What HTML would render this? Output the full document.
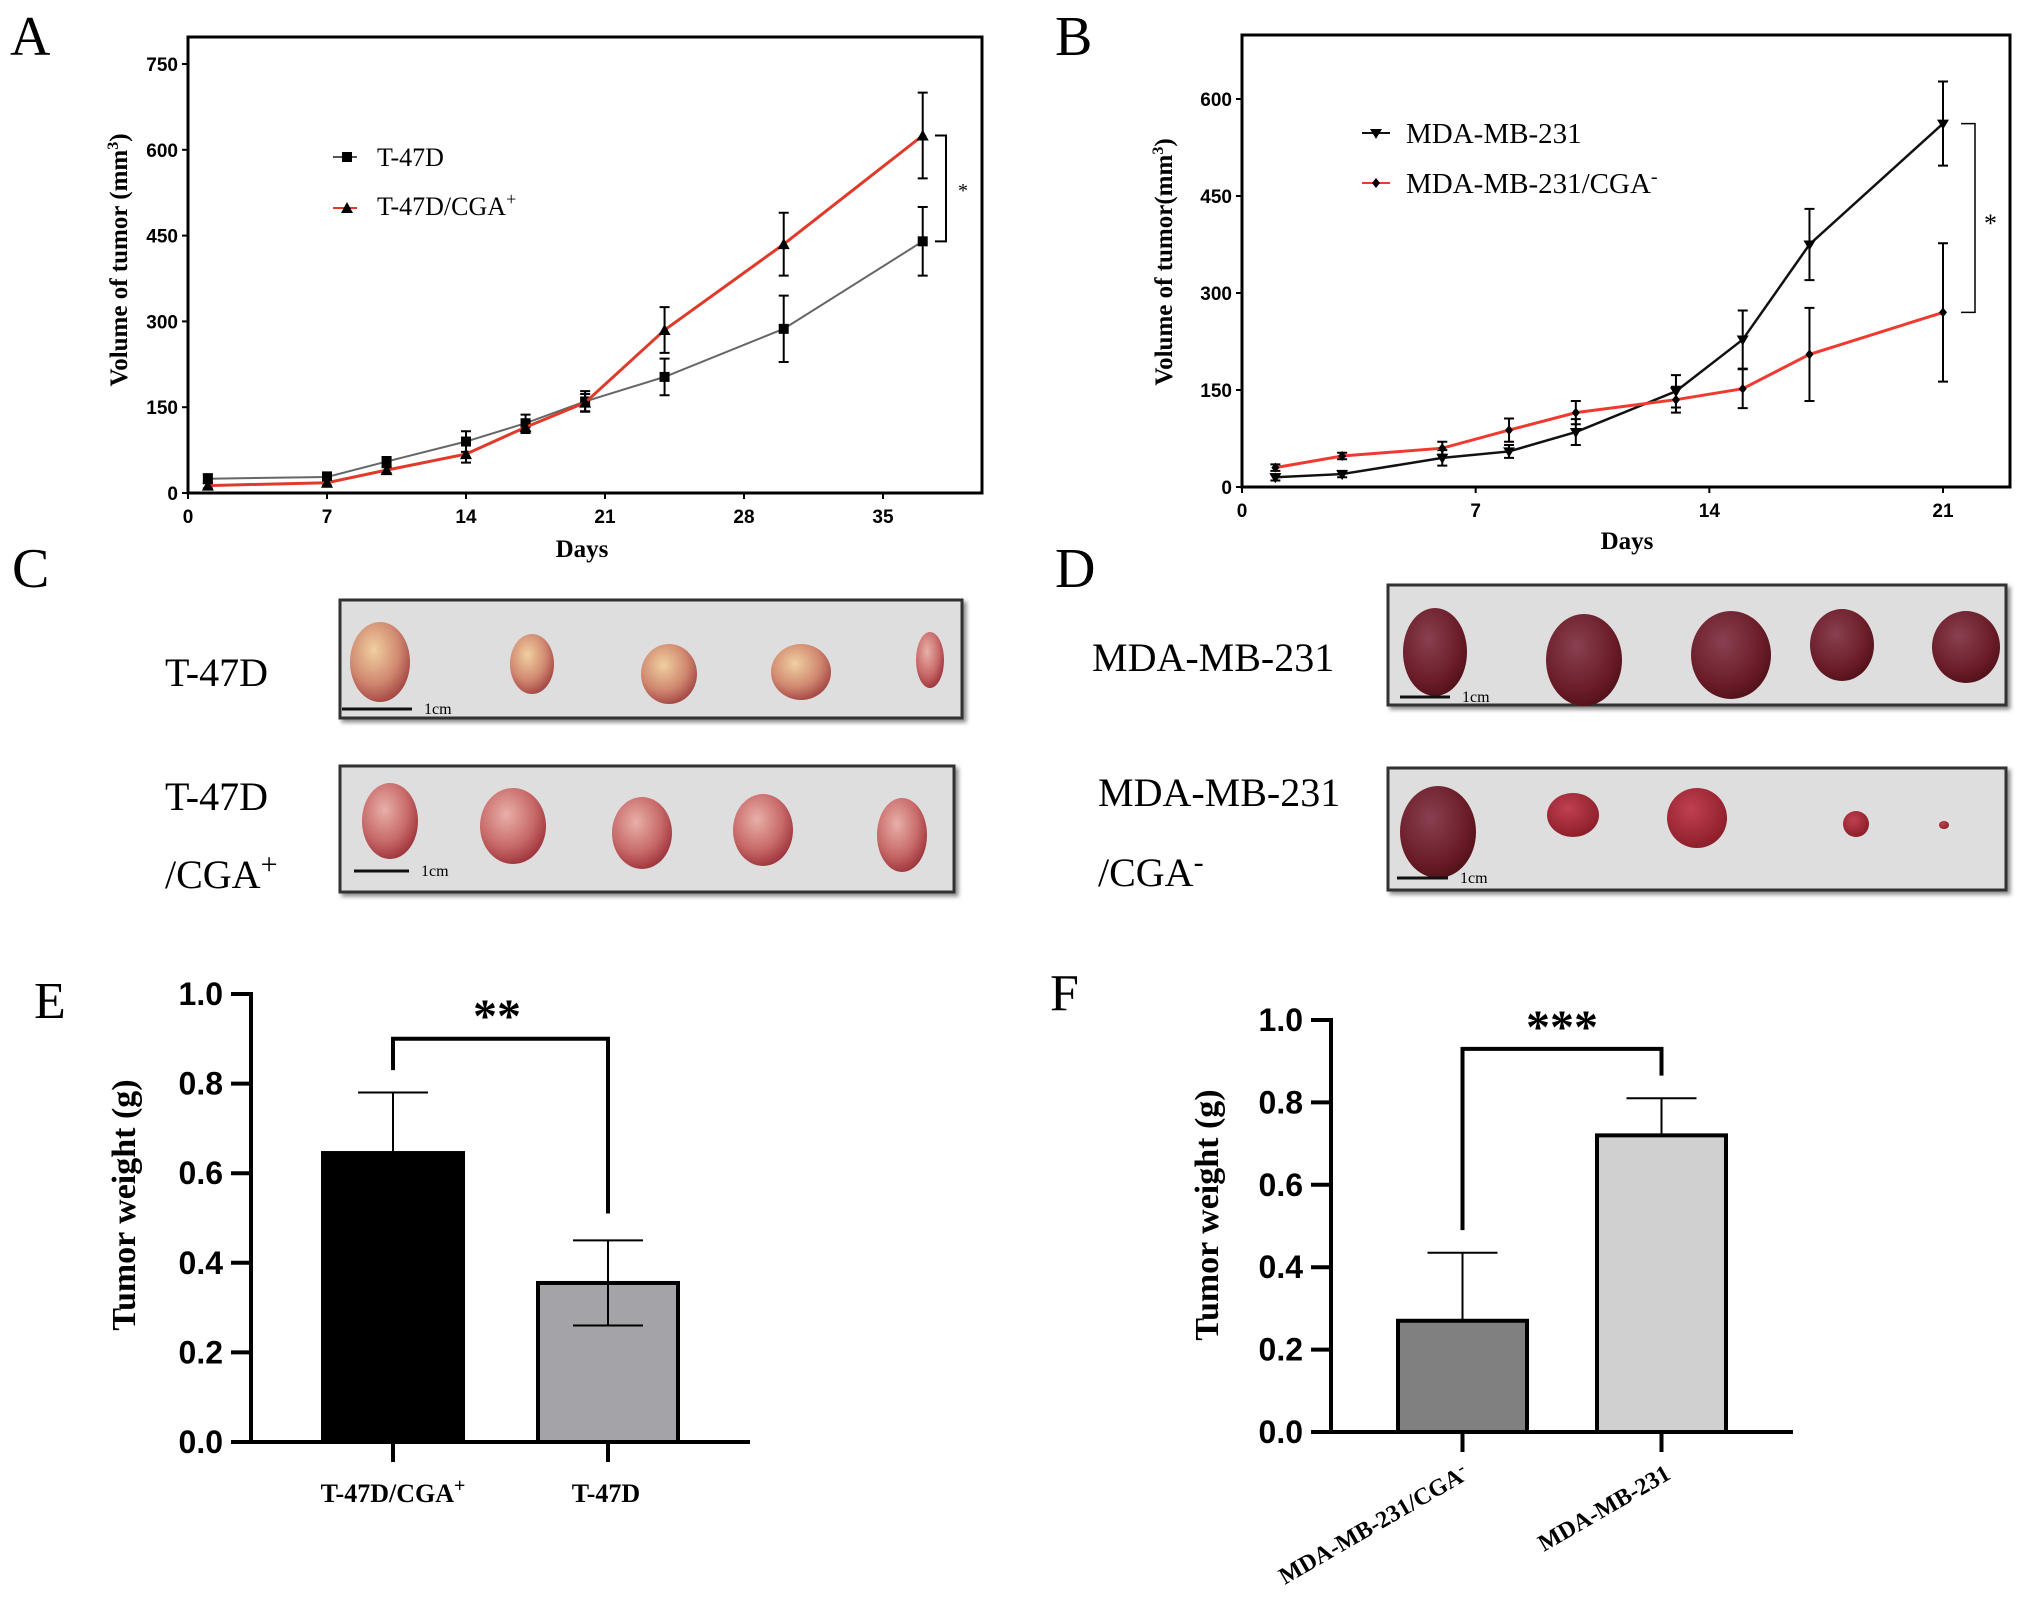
<!DOCTYPE html>
<html><head><meta charset="utf-8"><style>
html,body{margin:0;padding:0;background:#fff;}
svg{display:block;}
text{font-family:"Liberation Serif",serif;}
.tk{font-family:"Liberation Sans",sans-serif;font-weight:bold;}
</style></head><body>
<svg id="fig" width="2031" height="1617" viewBox="0 0 2031 1617" xmlns="http://www.w3.org/2000/svg">
<defs>
<radialGradient id="tumPink" cx="40%" cy="35%" r="70%"><stop offset="0" stop-color="#e8b0a8"/><stop offset="0.6" stop-color="#c86a6a"/><stop offset="1" stop-color="#9a3038"/></radialGradient>
<radialGradient id="tumTan" cx="40%" cy="35%" r="70%"><stop offset="0" stop-color="#f0d0a0"/><stop offset="0.6" stop-color="#d08870"/><stop offset="1" stop-color="#a04040"/></radialGradient>
<radialGradient id="tumDark" cx="40%" cy="35%" r="70%"><stop offset="0" stop-color="#8a4050"/><stop offset="0.7" stop-color="#6a1c28"/><stop offset="1" stop-color="#501018"/></radialGradient>
<radialGradient id="tumRed" cx="40%" cy="35%" r="70%"><stop offset="0" stop-color="#c04050"/><stop offset="1" stop-color="#8a1c28"/></radialGradient>
<filter id="sh"><feDropShadow dx="3" dy="3" stdDeviation="2" flood-color="#888"/></filter>
</defs>
<g id="panelA"></g>
<g id="panelB"></g>
<g id="panelC"></g>
<g id="panelD"></g>
<g id="panelE"></g>
<g id="panelF"></g>
</svg>
<script>
// Panel A data
const aDaysT47 = [1,7,10,14,17,20,24,30,37];
const aValsT47 = [25,28,55,90,122,160,203,287,440];
const aErrT47 = [8,8,8,18,15,18,32,58,60];
const aDaysCGA = [1,7,10,14,17,20,24,30,37];
const aValsCGA = [13,18,40,68,115,158,285,435,625];
const aErrCGA = [5,5,5,15,10,15,40,55,75];
const aXTicks = [0,7,14,21,28,35];
const aYTicks = [0,150,300,450,600,750];
// Panel B data
const bDaysMDA = [1,3,6,8,10,13,15,17,21];
const bValsMDA = [15,20,45,55,85,148,228,375,562];
const bErrMDA = [5,5,12,10,20,25,45,55,65];
const bDaysCGA = [1,3,6,8,10,13,15,17,21];
const bValsCGA = [30,48,60,88,115,135,152,205,270];
const bErrCGA = [5,5,10,18,18,20,30,72,107];
const bXTicks = [0,7,14,21];
const bYTicks = [0,150,300,450,600];
// Panel E data
const eCats = ["T-47D/CGA+","T-47D"];
const eVals = [0.645,0.355];
const eErr = [0.135,0.095];
const eYTicks = [0.0,0.2,0.4,0.6,0.8,1.0];
// Panel F data
const fCats = ["MDA-MB-231/CGA-","MDA-MB-231"];
const fVals = [0.27,0.72];
const fErr = [0.165,0.09];
const fYTicks = [0.0,0.2,0.4,0.6,0.8,1.0];

const NS="http://www.w3.org/2000/svg";
function mk(parent,tag,attrs,txt){const e=document.createElementNS(NS,tag);for(const k in attrs)e.setAttribute(k,attrs[k]);if(txt!==undefined)e.textContent=txt;parent.appendChild(e);return e;}

function lineChart(g,cfg){
  const X=d=>cfg.x0+(d-cfg.d0)*(cfg.x1-cfg.x0)/(cfg.d1-cfg.d0);
  const Y=v=>cfg.y0-(v)*(cfg.y0-cfg.y1)/(cfg.v1);
  let e;
  e=mk(g,'path',{d:`M${cfg.x0},${cfg.top}H${cfg.right}V${cfg.y0}H${cfg.x0}Z`,fill:'none',stroke:'#000','stroke-width':3});
  
  cfg.xt.forEach(t=>{mk(g,'line',{x1:X(t),x2:X(t),y1:cfg.y0,y2:cfg.y0+6,stroke:'#000','stroke-width':2});
    e=mk(g,'text',{x:X(t),y:cfg.y0+30,'text-anchor':'middle','font-size':19,class:'tk'},t);
    });
  cfg.yt.forEach(t=>{mk(g,'line',{x1:cfg.x0-6,x2:cfg.x0,y1:Y(t),y2:Y(t),stroke:'#000','stroke-width':2});
    e=mk(g,'text',{x:cfg.x0-10,y:Y(t)+7,'text-anchor':'end','font-size':19,class:'tk'},t);
    });
  cfg.series.forEach(s=>{
    const sg=mk(g,'g',{});
    
    mk(sg,'polyline',{points:s.d.map((d,i)=>X(d)+','+Y(s.v[i])).join(' '),fill:'none',stroke:s.c,'stroke-width':s.w});
    s.d.forEach((d,i)=>{const x=X(d),yh=Y(s.v[i]+s.e[i]),yl=Y(Math.max(0,s.v[i]-s.e[i]));
      mk(sg,'path',{d:`M${x},${yh}V${yl}M${x-5},${yh}H${x+5}M${x-5},${yl}H${x+5}`,stroke:'#000','stroke-width':2,fill:'none'});
      marker(sg,s.m,x,Y(s.v[i]));});
  });
}
function marker(g,m,x,y){
  if(m==='sq')mk(g,'rect',{x:x-5,y:y-5,width:10,height:10,fill:'#000'});
  else if(m==='tri')mk(g,'path',{d:`M${x},${y-6}L${x+6},${y+5}L${x-6},${y+5}Z`,fill:'#000'});
  else if(m==='itri')mk(g,'path',{d:`M${x-6},${y-4}L${x+6},${y-4}L${x},${y+6}Z`,fill:'#000'});
  else mk(g,'path',{d:`M${x},${y-5}L${x+4},${y}L${x},${y+5}L${x-4},${y}Z`,fill:'#000'});
}
function label(g,t,x,y,fs,name,extra){const e=mk(g,'text',Object.assign({x:x,y:y,'font-size':fs},extra||{}),t);return e;}

// Panel A
(function(){const g=document.getElementById('panelA');
lineChart(g,{x0:188,x1:883,d0:0,d1:35,y0:493,y1:64,v1:750,top:37,right:982,xt:aXTicks,yt:aYTicks,
 series:[{name:'series-t47d',d:aDaysT47,v:aValsT47,e:aErrT47,c:'#666',w:2,m:'sq'},{name:'series-t47d-cga',d:aDaysCGA,v:aValsCGA,e:aErrCGA,c:'#e03a2a',w:3,m:'tri'}]});
label(g,'A',10,55,56,'panel-label-a');
label(g,'Days',582,557,25,'x-axis-title',{'font-weight':'bold','text-anchor':'middle'});
const yt=label(g,'',0,0,25,'y-axis-title',{'font-weight':'bold','text-anchor':'middle',transform:'translate(127,260) rotate(-90)'});
yt.innerHTML='Volume of tumor (mm<tspan dy="-9" font-size="16">3</tspan><tspan dy="9">)</tspan>';
mk(g,'line',{x1:333,x2:357,y1:157,y2:157,stroke:'#555','stroke-width':2});marker(g,'sq',347,157);
label(g,'T-47D',377,166,26,'legend-t47d');
mk(g,'line',{x1:333,x2:357,y1:208,y2:208,stroke:'#e03a2a','stroke-width':2});marker(g,'tri',347,208);
const l2=label(g,'',377,215,26,'legend-t47d-cga');l2.innerHTML='T-47D/CGA<tspan dy="-10" font-size="18">+</tspan>';
const Y=v=>493-v*(493-64)/750;
mk(g,'path',{d:`M935,${Y(625)}H946V${Y(440)}H935`,fill:'none',stroke:'#000','stroke-width':2});
label(g,'*',958,197,20,'significance-star');
})();
// Panel B
(function(){const g=document.getElementById('panelB');
lineChart(g,{x0:1242,x1:1943,d0:0,d1:21,y0:487,y1:99,v1:600,top:35,right:2010,xt:bXTicks,yt:bYTicks,
 series:[{name:'series-mda',d:bDaysMDA,v:bValsMDA,e:bErrMDA,c:'#111',w:2.5,m:'itri'},{name:'series-mda-cga',d:bDaysCGA,v:bValsCGA,e:bErrCGA,c:'#f03a30',w:3,m:'dia'}]});
label(g,'B',1055,55,56,'panel-label-b');
label(g,'Days',1627,549,25,'x-axis-title',{'font-weight':'bold','text-anchor':'middle'});
const yt=label(g,'',0,0,25,'y-axis-title',{'font-weight':'bold','text-anchor':'middle',transform:'translate(1172,262) rotate(-90)'});
yt.innerHTML='Volume of tumor(mm<tspan dy="-9" font-size="16">3</tspan><tspan dy="9">)</tspan>';
mk(g,'line',{x1:1362,x2:1390,y1:133,y2:133,stroke:'#111','stroke-width':2});marker(g,'itri',1376,133);
label(g,'MDA-MB-231',1406,143,29,'legend-mda');
mk(g,'line',{x1:1362,x2:1390,y1:183,y2:183,stroke:'#f03a30','stroke-width':2});marker(g,'dia',1376,183);
const l2=label(g,'',1406,193,29,'legend-mda-cga');l2.innerHTML='MDA-MB-231/CGA<tspan dy="-10" font-size="20">-</tspan>';
const Y=v=>487-v*(487-99)/600;
mk(g,'path',{d:`M1961,${Y(562)}H1975V${Y(270)}H1961`,fill:'none',stroke:'#000','stroke-width':1.5});
label(g,'*',1984,232,26,'significance-star');
})();
// Photos
function photo(g,name,x,y,w,h,tumors,bar){
  const pg=mk(g,'g',{});
  mk(pg,'rect',{x:x,y:y,width:w,height:h,fill:'#dedede',stroke:'#333','stroke-width':3,filter:'url(#sh)'});
  tumors.forEach(t=>mk(pg,'ellipse',{cx:t[0],cy:t[1],rx:t[2],ry:t[3],fill:'url(#'+t[4]+')'}));
  mk(pg,'line',{x1:bar[0],x2:bar[1],y1:bar[2],y2:bar[2],stroke:'#111','stroke-width':3});
  const e=mk(pg,'text',{x:bar[1]+12,y:bar[2]+5,'font-size':16},'1cm');
}
(function(){const g=document.getElementById('panelC');
label(g,'C',12,587,56,'panel-label-c');
label(g,'T-47D',165,686,40,'row-label-t47d');
label(g,'T-47D',165,810,40,'row-label-t47d-cga');
const l=label(g,'',165,888,40,'row-label-cga');l.innerHTML='/CGA<tspan dy="-14" font-size="30">+</tspan>';
photo(g,'photo-t47d',340,600,622,118,[[380,662,30,40,'tumTan'],[532,664,22,30,'tumTan'],[669,674,28,30,'tumTan'],[801,672,30,28,'tumTan'],[930,660,14,28,'tumPink']],[342,412,709]);
photo(g,'photo-t47d-cga',340,766,614,126,[[390,821,28,38,'tumPink'],[513,826,33,38,'tumPink'],[642,833,30,36,'tumPink'],[763,830,30,36,'tumPink'],[902,835,25,37,'tumPink']],[354,409,871]);
})();
(function(){const g=document.getElementById('panelD');
label(g,'D',1055,587,56,'panel-label-d');
label(g,'MDA-MB-231',1092,671,40,'row-label-mda');
label(g,'MDA-MB-231',1098,806,40,'row-label-mda-cga');
const l=label(g,'',1098,886,40,'row-label-cga-minus');l.innerHTML='/CGA<tspan dy="-14" font-size="30">-</tspan>';
photo(g,'photo-mda',1388,585,618,120,[[1435,652,32,44,'tumDark'],[1584,660,38,46,'tumDark'],[1731,655,40,44,'tumDark'],[1842,645,32,36,'tumDark'],[1966,647,34,36,'tumDark']],[1400,1450,697]);
photo(g,'photo-mda-cga',1388,768,618,122,[[1438,832,38,46,'tumDark'],[1573,815,26,22,'tumRed'],[1697,818,30,30,'tumRed'],[1856,824,13,13,'tumRed'],[1944,825,5,4,'tumRed']],[1397,1448,878]);
})();
// Bar charts
function barChart(g,cfg){
  const Y=v=>cfg.y0-v*(cfg.y0-cfg.y1);
  let e;
  mk(g,'line',{x1:cfg.x0,x2:cfg.x0,y1:cfg.y1-2,y2:cfg.y0,stroke:'#000','stroke-width':4});
  mk(g,'line',{x1:cfg.x0-20,x2:cfg.xr,y1:cfg.y0,y2:cfg.y0,stroke:'#000','stroke-width':4});
  cfg.yt.forEach(t=>{mk(g,'line',{x1:cfg.x0-20,x2:cfg.x0,y1:Y(t),y2:Y(t),stroke:'#000','stroke-width':4});
    e=mk(g,'text',{x:cfg.x0-28,y:Y(t)+11,'text-anchor':'end','font-size':32,class:'tk'},t.toFixed(1));
    });
  cfg.cats.forEach((c,i)=>{const bx=cfg.bx[i],bw=cfg.bw,cx=bx+bw/2;
    mk(g,'line',{x1:cx,x2:cx,y1:cfg.y0,y2:cfg.y0+20,stroke:'#000','stroke-width':4});
    mk(g,'path',{d:`M${cx},${Y(cfg.vals[i])}V${Y(cfg.vals[i]+cfg.err[i])}M${cx-35},${Y(cfg.vals[i]+cfg.err[i])}H${cx+35}`+(cfg.errLow?`M${cx},${Y(cfg.vals[i])}V${Y(cfg.vals[i]-cfg.err[i])}M${cx-35},${Y(cfg.vals[i]-cfg.err[i])}H${cx+35}`:''),stroke:'#000','stroke-width':2,fill:'none'});
    e=mk(g,'rect',{x:bx,y:Y(cfg.vals[i]),width:bw,height:cfg.y0-Y(cfg.vals[i]),fill:cfg.fills[i],stroke:'#000','stroke-width':4});
    
    if(cfg.errLow&&i===1)mk(g,'path',{d:`M${cx},${Y(cfg.vals[i])}V${Y(cfg.vals[i]-cfg.err[i])}M${cx-35},${Y(cfg.vals[i]-cfg.err[i])}H${cx+35}`,stroke:'#000','stroke-width':2,fill:'none'});
  });
  const c0=cfg.bx[0]+cfg.bw/2,c1=cfg.bx[1]+cfg.bw/2;
  mk(g,'path',{d:`M${c0},${Y(cfg.br[1])}V${Y(cfg.br[0])}H${c1}V${Y(cfg.br[2])}`,fill:'none',stroke:'#000','stroke-width':4});
  return {Y:Y};
}
(function(){const g=document.getElementById('panelE');
barChart(g,{x0:251,xr:750,y0:1442,y1:994,yt:eYTicks,cats:eCats,vals:eVals,err:eErr,bx:[323,538],bw:140,fills:['#000','#a4a4a8'],br:[0.9,0.83,0.51],errLow:true});
label(g,'E',34,1018,52,'panel-label-e');
label(g,'**',497,1032,48,'significance-stars',{'text-anchor':'middle','font-family':'Liberation Sans,sans-serif','font-weight':'bold'});
label(g,'Tumor weight (g)',0,0,34,'y-axis-title',{'font-weight':'bold','text-anchor':'middle',transform:'translate(135,1205) rotate(-90)'});
const a=label(g,'',393,1502,26,'x-label-t47d-cga',{'font-weight':'bold','text-anchor':'middle'});a.innerHTML='T-47D/CGA<tspan dy="-10" font-size="20">+</tspan>';
label(g,'T-47D',606,1502,26,'x-label-t47d',{'font-weight':'bold','text-anchor':'middle'});
})();
(function(){const g=document.getElementById('panelF');
barChart(g,{x0:1331,xr:1793,y0:1432,y1:1020,yt:fYTicks,cats:fCats,vals:fVals,err:fErr,bx:[1398,1597],bw:129,fills:['#808080','#d0d0d0'],br:[0.93,0.49,0.865],errLow:false});
label(g,'F',1050,1010,52,'panel-label-f');
label(g,'***',1562,1043,48,'significance-stars',{'text-anchor':'middle','font-family':'Liberation Sans,sans-serif','font-weight':'bold'});
label(g,'Tumor weight (g)',0,0,34,'y-axis-title',{'font-weight':'bold','text-anchor':'middle',transform:'translate(1218,1215) rotate(-90)'});
const a=label(g,'',0,0,24,'x-label-mda-cga',{'font-weight':'bold','text-anchor':'end',transform:'translate(1470,1478) rotate(-30)'});a.innerHTML='MDA-MB-231/CGA<tspan dy="-8" font-size="18">-</tspan>';
label(g,'MDA-MB-231',0,0,24,'x-label-mda',{'font-weight':'bold','text-anchor':'end',transform:'translate(1672,1478) rotate(-30)'});
})();
</script>
</body></html>
